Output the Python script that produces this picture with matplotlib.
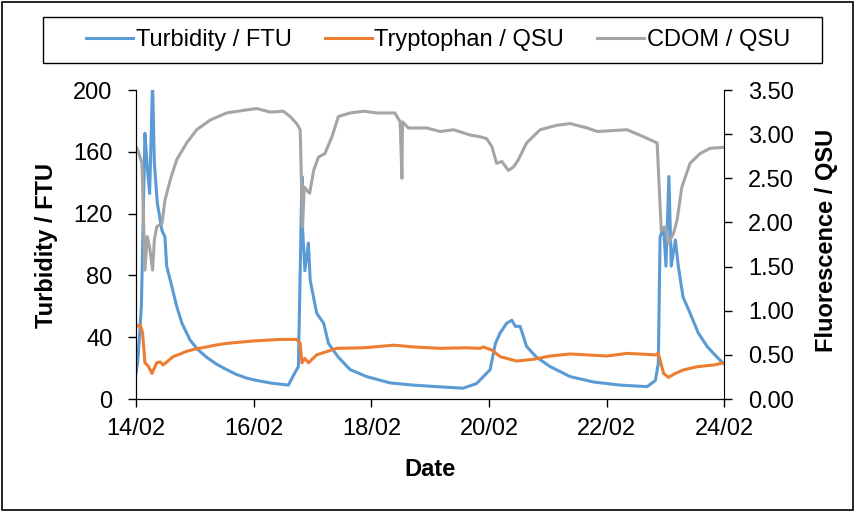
import matplotlib
matplotlib.use("Agg")
import matplotlib.pyplot as plt
from matplotlib.patches import Rectangle

plt.rcParams['font.family'] = ['Liberation Sans', 'DejaVu Sans']

# days since 14/02
turb_days = [0.0, 0.03, 0.09, 0.15, 0.19, 0.23, 0.28, 0.31, 0.36, 0.40, 0.44, 0.49, 0.52, 0.58,
             0.69, 0.78, 0.92, 1.05, 1.20, 1.37, 1.54, 1.70, 1.88, 2.08, 2.28, 2.45, 2.59, 2.70,
             2.76, 2.82, 2.83, 2.87, 2.93, 2.96, 3.07, 3.19, 3.27, 3.44, 3.64, 3.92, 4.32, 4.71,
             5.11, 5.56, 5.79, 6.02, 6.11, 6.19, 6.30, 6.39, 6.45, 6.53, 6.64, 6.81, 7.04, 7.38,
             7.78, 8.23, 8.69, 8.83, 8.88, 8.91, 8.97, 9.01, 9.06, 9.10, 9.17, 9.22, 9.30, 9.42,
             9.56, 9.71, 9.88, 9.99]
turbidity = [17, 25, 60, 172, 150, 133, 205, 153, 127, 118, 109, 105, 86, 77,
             60, 49, 38, 32, 27, 22.5, 19, 16, 13.5, 11.8, 10.4, 9.6, 9, 17,
             21, 144, 111, 83, 101, 77, 55.6, 49, 36, 27, 19, 14.5, 10.4, 9,
             8, 7, 10, 19, 36, 42.7, 49, 51, 47, 47, 34, 27, 21, 14.5,
             11, 9, 8, 12, 23, 105, 111, 86, 144, 86, 103, 86, 66, 55.6,
             42.7, 34, 27, 23]

tryp_days = [0.0, 0.07, 0.11, 0.15, 0.21, 0.27, 0.35, 0.41, 0.46, 0.63, 0.75, 0.86, 1.0, 1.20,
             1.35, 1.54, 1.99, 2.45, 2.73, 2.79, 2.82, 2.87, 2.93, 3.07, 3.19, 3.41, 3.87, 4.38,
             4.71, 5.17, 5.62, 5.85, 5.90, 6.05, 6.19, 6.47, 6.76, 7.04, 7.38, 8.01, 8.35, 8.83,
             8.88, 8.97, 9.05, 9.17, 9.31, 9.54, 9.82, 9.99]
tryptophan = [0.82, 0.84, 0.75, 0.41, 0.37, 0.29, 0.41, 0.42, 0.385, 0.48, 0.51, 0.54, 0.565, 0.59,
              0.61, 0.63, 0.657, 0.675, 0.675, 0.63, 0.41, 0.46, 0.41, 0.50, 0.525, 0.574, 0.58, 0.61,
              0.59, 0.574, 0.58, 0.574, 0.59, 0.555, 0.48, 0.43, 0.45, 0.487, 0.51, 0.487, 0.517, 0.50,
              0.517, 0.29, 0.245, 0.29, 0.33, 0.366, 0.385, 0.41]

cdom_days = [0.0, 0.04, 0.10, 0.15, 0.19, 0.23, 0.28, 0.31, 0.35, 0.44, 0.49, 0.58, 0.69, 0.86,
             1.03, 1.26, 1.54, 1.83, 2.05, 2.28, 2.50, 2.62, 2.73, 2.79, 2.83, 2.86, 2.95, 3.02,
             3.10, 3.21, 3.33, 3.44, 3.64, 3.87, 4.09, 4.40, 4.49, 4.52, 4.53, 4.63, 4.94, 5.17,
             5.40, 5.68, 5.85, 5.96, 6.05, 6.13, 6.22, 6.33, 6.42, 6.50, 6.64, 6.87, 7.15, 7.38,
             7.67, 7.84, 8.35, 8.63, 8.86, 8.93, 9.00, 9.05, 9.14, 9.20, 9.28, 9.42, 9.59, 9.76, 9.99]
cdom = [2.857, 2.80, 2.67, 1.46, 1.84, 1.72, 1.46, 1.80, 1.95, 1.99, 2.25, 2.48, 2.71, 2.90,
        3.05, 3.16, 3.24, 3.27, 3.29, 3.25, 3.26, 3.20, 3.12, 3.05, 1.95, 2.40, 2.33, 2.59,
        2.74, 2.78, 2.97, 3.20, 3.24, 3.26, 3.24, 3.24, 3.14, 2.50, 3.14, 3.07, 3.07, 3.03,
        3.05, 2.99, 2.97, 2.95, 2.86, 2.67, 2.69, 2.59, 2.63, 2.71, 2.90, 3.05, 3.10, 3.12,
        3.07, 3.03, 3.05, 2.97, 2.90, 1.91, 1.95, 1.76, 1.88, 2.03, 2.40, 2.67, 2.78, 2.84, 2.85]

date_ticks = [0, 2, 4, 6, 8, 10]
date_labels = ['14/02', '16/02', '18/02', '20/02', '22/02', '24/02']
left_ticks = [0, 40, 80, 120, 160, 200]
right_ticks = [0, 0.5, 1.0, 1.5, 2.0, 2.5, 3.0, 3.5]

fs = 17
fig = plt.figure(figsize=(8.56, 5.12), dpi=100)
ax = fig.add_axes([0.159, 0.2207, 0.687, 0.6035])
ax2 = ax.twinx()

l1, = ax.plot(turb_days, turbidity, color='#5B9BD5', lw=2.2, label='Turbidity / FTU')
l2, = ax2.plot(tryp_days, tryptophan, color='#ED7D31', lw=2.2, label='Tryptophan / QSU')
l3, = ax2.plot(cdom_days, cdom, color='#A5A5A5', lw=2.2, label='CDOM / QSU')

ax.set_xlim(0, 10)
ax.set_ylim(0, 200)
ax2.set_ylim(0, 3.5)
ax.set_xticks(date_ticks)
ax.set_xticklabels(date_labels)
ax.set_yticks(left_ticks)
ax2.set_yticks(right_ticks)
ax2.set_yticklabels(['%.2f' % v for v in right_ticks])

for a in (ax, ax2):
    a.spines['top'].set_visible(False)
    a.tick_params(labelsize=fs, length=6, width=1, direction='out', pad=11)
ax.tick_params(axis='x', pad=8)
ax.spines['right'].set_visible(False)

fig.text(430 / 856, 1 - 470 / 512, 'Date', fontsize=fs, fontweight='bold', ha='center', va='center')
fig.text(47 / 856, 1 - 245 / 512, 'Turbidity / FTU', fontsize=fs, fontweight='bold',
         rotation=90, ha='center', va='center')
fig.text(826 / 856, 1 - 240 / 512, 'Fluorescence / QSU', fontsize=fs, fontweight='bold',
         rotation=90, ha='center', va='center')

fig.legend(handles=[l1, l2, l3], loc='center', ncol=3,
           bbox_to_anchor=(438 / 856, 1 - 40 / 512), bbox_transform=fig.transFigure,
           fontsize=fs, frameon=False, handlelength=2.0, handletextpad=0.1,
           columnspacing=1.4, borderaxespad=0)

fig.patches.append(Rectangle((43 / 856, 1 - 63 / 512), 779 / 856, 46 / 512, transform=fig.transFigure,
                             fill=False, edgecolor='black', lw=1))
fig.patches.append(Rectangle((0.002, 0.004), 0.994, 0.992, transform=fig.transFigure,
                             fill=False, edgecolor='black', lw=1.2))

fig.savefig('out.png', dpi=100)
